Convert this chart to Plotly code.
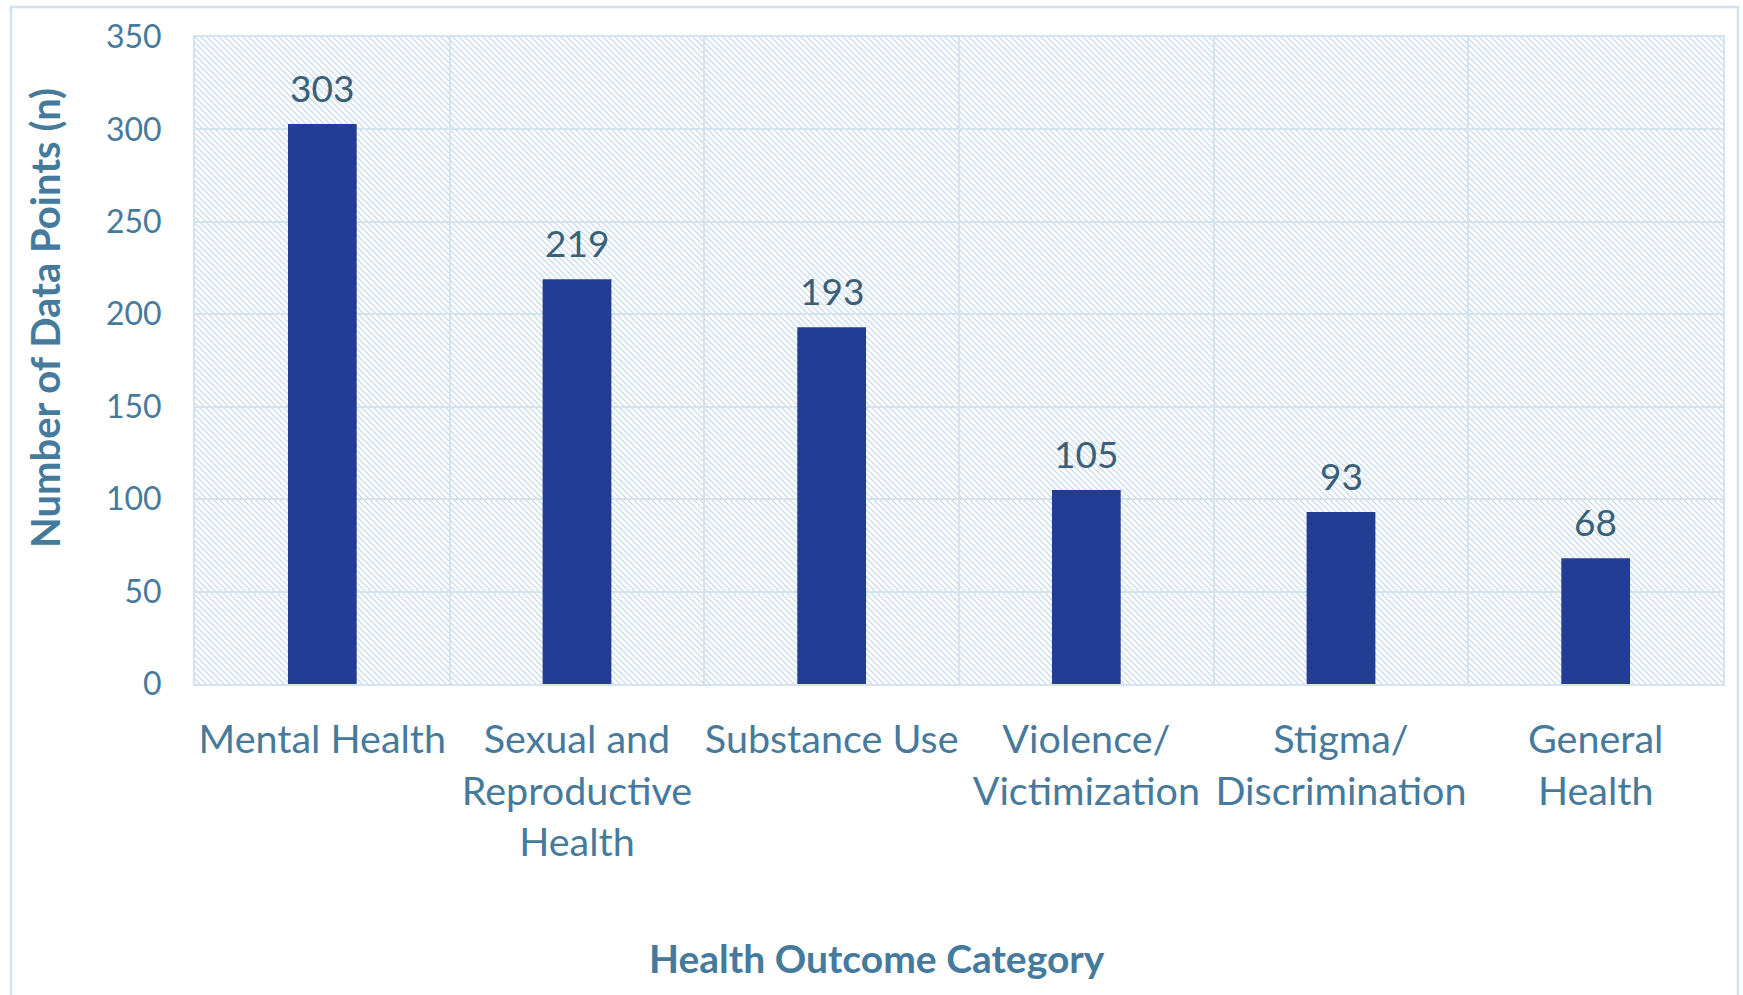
import base64
import plotly.graph_objects as go

categories = ["Mental Health", "Sexual and<br>Reproductive<br>Health", "Substance Use",
              "Violence/<br>Victimization", "Stigma/<br>Discrimination", "General<br>Health"]
values = [303, 219, 193, 105, 93, 68]
y_ticks = [0, 50, 100, 150, 200, 250, 300, 350]

W, H = 1743, 995
L, R, T, B = 195, 20, 37, 311
PW, PH = W - L - R, H - T - B

FONT = "Lato"
TICK_C = "#467A9C"
LABEL_C = "#3A6079"
BAR_C = "#233D94"
GRID_C = "#D5E3EF"

svg = f'''<svg xmlns="http://www.w3.org/2000/svg" width="{PW}" height="{PH}" viewBox="0 0 {PW} {PH}" preserveAspectRatio="none">
<defs><pattern id="p" width="6" height="6" patternUnits="userSpaceOnUse">
<path d="M-1,-1 L7,7 M-4,2 L2,8 M2,-4 L8,2" stroke="#C9DBEC" stroke-width="1.3"/>
</pattern></defs>
<rect x="0" y="0" width="{PW}" height="{PH}" fill="url(#p)"/>
</svg>'''
src = "data:image/svg+xml;base64," + base64.b64encode(svg.encode()).decode()

fig = go.Figure()
fig.add_trace(go.Bar(x=categories, y=values, width=0.27, marker=dict(color=BAR_C, line=dict(width=0)),
                     hoverinfo="skip"))

annotations = []
for c, v in zip(categories, values):
    annotations.append(dict(x=c, y=v, xref="x", yref="y", text=str(v), showarrow=False,
                            yanchor="bottom", yshift=12,
                            font=dict(family=FONT, size=37, color=LABEL_C)))
annotations.append(dict(x=(45 - L) / PW, y=(684 - 318) / PH, xref="paper", yref="paper",
                        xanchor="center", yanchor="middle",
                        text="<b>Number of Data Points (n)</b>", textangle=-90, showarrow=False,
                        font=dict(family=FONT, size=40, color=TICK_C)))
annotations.append(dict(x=(877 - L) / PW, y=(684 - 958) / PH, xref="paper", yref="paper",
                        xanchor="center", yanchor="middle",
                        text="<b>Health Outcome Category</b>", showarrow=False,
                        font=dict(family=FONT, size=39, color=TICK_C)))

fig.update_layout(
    width=W, height=H,
    margin=dict(l=L, r=R, t=T, b=B, pad=0, autoexpand=False),
    paper_bgcolor="white", plot_bgcolor="white",
    showlegend=False,
    annotations=annotations,
    images=[dict(source=src, xref="paper", yref="paper", x=0, y=1, sizex=1, sizey=1,
                 sizing="stretch", xanchor="left", yanchor="top", layer="below")],
    shapes=[dict(type="rect", xref="paper", yref="paper",
                 x0=(11 - L) / PW, x1=(1738 - L) / PW, y0=(684 - 1010) / PH, y1=(684 - 7) / PH,
                 line=dict(color="#D3E1EE", width=2.5), fillcolor="rgba(0,0,0,0)", layer="below")],
    xaxis=dict(type="category", tickson="boundaries", showgrid=True, gridcolor=GRID_C, gridwidth=2,
               showline=True, mirror=True, linecolor=GRID_C, linewidth=2, ticks="",
               tickangle=0, automargin=False,
               tickfont=dict(family=FONT, size=39.5, color=TICK_C), ticklabelstandoff=20,
               range=[-0.5, 5.5], fixedrange=True),
    yaxis=dict(range=[0, 350], tickvals=y_ticks, showgrid=True, gridcolor=GRID_C, gridwidth=2,
               showline=True, mirror=True, linecolor=GRID_C, linewidth=2, ticks="", zeroline=False,
               automargin=False,
               tickfont=dict(family=FONT, size=32, color=TICK_C), ticklabelstandoff=25,
               fixedrange=True),
)

fig.write_html("out.html", config={"displayModeBar": False})
